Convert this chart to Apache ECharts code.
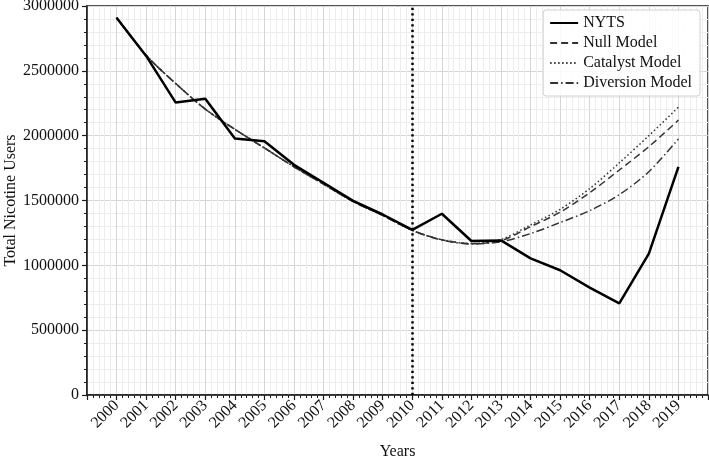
<!DOCTYPE html>
<html>
<head>
<meta charset="utf-8">
<script src="https://cdn.jsdelivr.net/npm/echarts@6/dist/echarts.min.js"></script>
<style>
  html, body { margin: 0; padding: 0; background: #fff; }
  #chart { width: 709px; height: 458px; }
</style>
</head>
<body>
<div id="chart"></div>
<script>
// years on the x axis
const years = [2000, 2001, 2002, 2003, 2004, 2005, 2006, 2007, 2008, 2009,
  2010, 2011, 2012, 2013, 2014, 2015, 2016, 2017, 2018, 2019];

// observed survey totals
const nyts = [2910000, 2615000, 2255000, 2285000, 1978000, 1957000, 1775000, 1637000, 1497000, 1392000,
  1274000, 1398000, 1188000, 1192000, 1054000, 962000, 828000, 707000, 1090000, 1760000];

// model curves (identical fit up to 2010)
const nullModel = [2910000, 2620000, 2402000, 2205000, 2049000, 1905000, 1760000, 1626000, 1492000, 1385000,
  1270000, 1197000, 1167000, 1190000, 1298000, 1410000, 1560000, 1735000, 1915000, 2120000];
const catalystModel = [2910000, 2620000, 2402000, 2205000, 2049000, 1905000, 1760000, 1626000, 1492000, 1385000,
  1270000, 1197000, 1168000, 1200000, 1312000, 1432000, 1592000, 1790000, 2000000, 2220000];
const diversionModel = [2910000, 2620000, 2402000, 2205000, 2049000, 1905000, 1760000, 1626000, 1492000, 1385000,
  1270000, 1195000, 1165000, 1182000, 1245000, 1330000, 1422000, 1545000, 1722000, 1975000];

const yTicks = [0, 500000, 1000000, 1500000, 2000000, 2500000, 3000000];
const splitYear = 2010;

const font = "'Liberation Serif', 'DejaVu Serif', serif";

function pairs(vals) {
  return years.map((y, i) => [y, vals[i]]);
}

var dom = document.getElementById("chart");
var myChart = echarts.init(dom, null, { renderer: "canvas" });

var option = {
  animation: false,
  backgroundColor: "#fff",
  textStyle: { fontFamily: font },
  grid: {
    left: 87,
    right: 1,
    top: 6,
    bottom: 63,
    containLabel: false,
    outerBoundsMode: "none",
    show: true,
    borderColor: "#1a1a1a",
    borderWidth: 1.5,
    backgroundColor: "transparent",
  },
  legend: {
    orient: "vertical",
    right: 9,
    top: 10,
    itemWidth: 28,
    itemHeight: 10,
    itemGap: 4,
    padding: [5, 8, 5, 6],
    backgroundColor: "rgba(255,255,255,0.85)",
    borderColor: "#d0d0d0",
    borderWidth: 1,
    borderRadius: 3,
    itemStyle: { opacity: 0 },
    textStyle: { fontFamily: font, fontSize: 16, color: "#111" },
    data: ["NYTS", "Null Model", "Catalyst Model", "Diversion Model"],
  },
  xAxis: {
    type: "value",
    min: 1999,
    max: 2020,
    interval: 1,
    name: "Years",
    nameLocation: "middle",
    nameGap: 49,
    nameMoveOverlap: false,
    nameTextStyle: { fontFamily: font, fontSize: 16, color: "#111" },
    axisLine: { onZero: false, lineStyle: { color: "#1a1a1a", width: 1.5 } },
    axisTick: { show: true, length: 5, lineStyle: { color: "#1a1a1a", width: 1.2 } },
    minorTick: { show: true, splitNumber: 5, length: 3, lineStyle: { color: "#1a1a1a", width: 1 } },
    splitLine: { show: true, lineStyle: { color: "#d6d6d6", width: 1 } },
    minorSplitLine: { show: true, lineStyle: { color: "#ededed", width: 1 } },
    axisLabel: {
      rotate: 45,
      margin: 8,
      showMinLabel: false,
      showMaxLabel: false,
      fontFamily: font,
      fontSize: 16,
      color: "#111",
      formatter: (v) => (years.indexOf(v) >= 0 ? String(v) : ""),
    },
  },
  yAxis: {
    type: "value",
    min: yTicks[0],
    max: yTicks[yTicks.length - 1],
    interval: 500000,
    name: "Total Nicotine Users",
    nameLocation: "middle",
    nameGap: 68,
    nameMoveOverlap: false,
    nameRotate: 90,
    nameTextStyle: { fontFamily: font, fontSize: 16, color: "#111" },
    axisLine: { show: true, lineStyle: { color: "#1a1a1a", width: 1.5 } },
    axisTick: { show: true, length: 5, lineStyle: { color: "#1a1a1a", width: 1.2 } },
    minorTick: { show: true, splitNumber: 5, length: 3, lineStyle: { color: "#1a1a1a", width: 1 } },
    splitLine: { show: true, lineStyle: { color: "#d6d6d6", width: 1 } },
    minorSplitLine: { show: true, lineStyle: { color: "#ededed", width: 1 } },
    axisLabel: {
      margin: 8,
      padding: [5, 0, 0, 0],
      fontFamily: font,
      fontSize: 16,
      color: "#111",
      formatter: (v) => String(v),
    },
  },
  series: [
    {
      name: "NYTS",
      type: "line",
      data: pairs(nyts),
      symbol: "none",
      lineStyle: { color: "#000", width: 2.5, type: "solid" },
      itemStyle: { color: "#000" },
      z: 5,
      markLine: {
        silent: true,
        symbol: "none",
        label: { show: false },
        lineStyle: { color: "#000", width: 2.5, type: [2.2, 3.3] },
        data: [{ xAxis: splitYear }],
      },
    },
    {
      name: "Null Model",
      type: "line",
      data: pairs(nullModel),
      symbol: "none",
      smooth: 0.3,
      lineStyle: { color: "#333", width: 1.5, type: [7, 4] },
      itemStyle: { color: "#333" },
      z: 3,
    },
    {
      name: "Catalyst Model",
      type: "line",
      data: pairs(catalystModel),
      symbol: "none",
      smooth: 0.3,
      lineStyle: { color: "#333", width: 1.5, type: [1.5, 2.5] },
      itemStyle: { color: "#333" },
      z: 3,
    },
    {
      name: "Diversion Model",
      type: "line",
      data: pairs(diversionModel),
      symbol: "none",
      smooth: 0.3,
      lineStyle: { color: "#333", width: 1.5, type: [8, 3, 1.5, 3] },
      itemStyle: { color: "#333" },
      z: 4,
    },
  ],
};

myChart.setOption(option);
window.addEventListener("resize", myChart.resize);
</script>
</body>
</html>
